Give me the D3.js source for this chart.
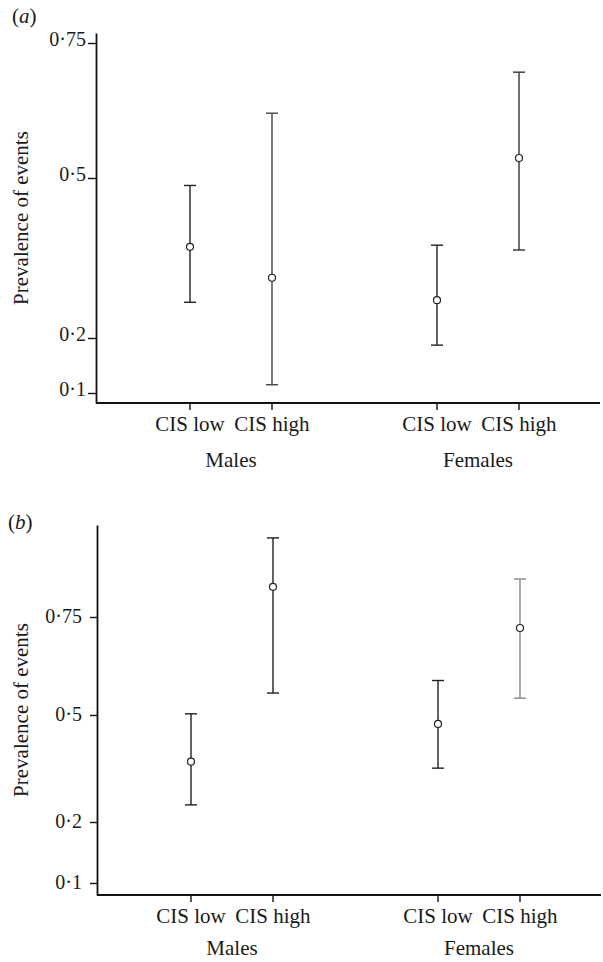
<!DOCTYPE html>
<html>
<head>
<meta charset="utf-8">
<script src="https://cdn.jsdelivr.net/npm/d3@7"></script>
<style>
  body { margin: 0; background: #fff; }
</style>
</head>
<body>
<div id="chart"></div>
<script>
var groups = ["Males", "Females"];
var levels = ["CIS low", "CIS high"];
var tickValues = [0.1, 0.2, 0.5, 0.75];
var tickLabels = ["0·1", "0·2", "0·5", "0·75"];

// order: males low, males high, females low, females high
var aMean  = [0.371, 0.313, 0.271, 0.537];
var aLower = [0.267, 0.115, 0.187, 0.365];
var aUpper = [0.486, 0.620, 0.374, 0.696];

var bMean  = [0.369, 0.827, 0.475, 0.722];
var bLower = [0.248, 0.556, 0.351, 0.543];
var bUpper = [0.503, 0.952, 0.588, 0.847];

var aColors = ["#222", "#444", "#222", "#333"];
var bColors = ["#222", "#222", "#222", "#888"];

var FONT = "Liberation Serif";
var W = 603, H = 962;
var axisLen = 370, axisW = 504;

var svg = d3.select("#chart").append("svg")
    .attr("width", W)
    .attr("height", H);

var outer = d3.scalePoint().domain(groups).range([135, 382]);
var inner = d3.scalePoint().domain(levels).range([-41, 41]);

var rows = [];
groups.forEach(function (g, gi) {
    levels.forEach(function (l, li) {
        rows.push({ group: g, level: l, i: gi * 2 + li });
    });
});
function xPos(d) { return outer(d.group) + inner(d.level); }

function serif(sel, size) {
    return sel.style("font-family", FONT).style("font-size", size + "px").attr("fill", "#1a1a1a");
}

function drawPanel(opt) {
    var g = svg.append("g")
        .attr("transform", "translate(" + opt.left + "," + opt.top + ")");

    var y = d3.scaleLinear()
        .domain(opt.domain)
        .range(opt.range);

    // y axis
    var yAxis = d3.axisLeft(y)
        .tickValues(tickValues)
        .tickFormat(function (d, i) { return tickLabels[i]; })
        .tickSize(opt.tickSize)
        .tickSizeOuter(0)
        .tickPadding(opt.tickPad);
    var ya = g.append("g").call(yAxis);
    ya.select(".domain").attr("stroke", "#111").attr("stroke-width", 1.8);
    ya.selectAll(".tick line").attr("stroke", "#111").attr("stroke-width", 1.4);
    serif(ya.selectAll(".tick text"), 20).attr("dy", opt.labelDy);

    // x axis
    g.append("line")
        .attr("x1", 0).attr("x2", axisW)
        .attr("y1", axisLen).attr("y2", axisLen)
        .attr("stroke", "#111").attr("stroke-width", 1.8);

    g.selectAll(".xtick").data(rows).enter().append("line")
        .attr("class", "xtick")
        .attr("x1", xPos).attr("x2", xPos)
        .attr("y1", axisLen).attr("y2", axisLen + 7)
        .attr("stroke", "#111").attr("stroke-width", 1.4);

    serif(g.selectAll(".xlab").data(rows).enter().append("text"), 21)
        .attr("class", "xlab")
        .attr("x", xPos)
        .attr("y", axisLen + 28)
        .attr("text-anchor", "middle")
        .text(function (d) { return d.level; });

    serif(g.selectAll(".glab").data(groups).enter().append("text"), 21)
        .attr("class", "glab")
        .attr("x", function (d) { return outer(d); })
        .attr("y", axisLen + opt.groupDy)
        .attr("text-anchor", "middle")
        .text(function (d) { return d; });

    // y title
    serif(g.append("text"), 21)
        .attr("transform", "translate(" + opt.titleX + "," + (axisLen / 2) + ") rotate(-90)")
        .attr("text-anchor", "middle")
        .text("Prevalence of events");

    // panel letter
    var pl = serif(g.append("text"), 21)
        .attr("x", opt.letterX)
        .attr("y", opt.letterY);
    pl.append("tspan").text("(");
    pl.append("tspan").style("font-style", "italic").text(opt.letter);
    pl.append("tspan").text(")");

    // error bars
    var bars = g.selectAll(".eb").data(rows).enter().append("g")
        .attr("class", "eb");

    bars.append("line")
        .attr("x1", xPos).attr("x2", xPos)
        .attr("y1", function (d) { return y(opt.upper[d.i]); })
        .attr("y2", function (d) { return y(opt.lower[d.i]); })
        .attr("stroke", function (d) { return opt.colors[d.i]; })
        .attr("stroke-width", 1.4);

    [opt.upper, opt.lower].forEach(function (arr) {
        bars.append("line")
            .attr("x1", function (d) { return xPos(d) - 6; })
            .attr("x2", function (d) { return xPos(d) + 6; })
            .attr("y1", function (d) { return y(arr[d.i]); })
            .attr("y2", function (d) { return y(arr[d.i]); })
            .attr("stroke", function (d) { return opt.colors[d.i]; })
            .attr("stroke-width", 1.4);
    });

    bars.append("circle")
        .attr("cx", xPos)
        .attr("cy", function (d) { return y(opt.mean[d.i]); })
        .attr("r", 3.5)
        .attr("fill", "#fff")
        .attr("stroke", "#222")
        .attr("stroke-width", 1.2);
}

drawPanel({
    letter: "a", left: 96, top: 33,
    domain: [0.0818, 0.1, 0.2, 0.5, 0.75, 0.7685],
    range: [370, 360, 305, 145, 10, 0],
    tickSize: 8, tickPad: 2, labelDy: "0.1em", groupDy: 64,
    titleX: -68, letterX: -84, letterY: -10,
    mean: aMean, lower: aLower, upper: aUpper, colors: aColors
});

drawPanel({
    letter: "b", left: 97, top: 525,
    domain: [0.080, 0.1, 0.2, 0.5, 0.75, 0.985],
    range: [370, 358, 297, 190, 92, 0],
    tickSize: 7, tickPad: 8, labelDy: "0.25em", groupDy: 60,
    titleX: -69, letterX: -89, letterY: 4,
    mean: bMean, lower: bLower, upper: bUpper, colors: bColors
});
</script>
</body>
</html>
